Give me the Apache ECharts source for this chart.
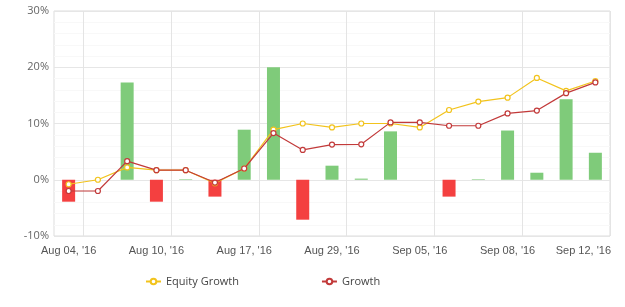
<!DOCTYPE html>
<html>
<head>
<meta charset="utf-8">
<script src="https://cdn.jsdelivr.net/npm/echarts@6/dist/echarts.min.js"></script>
<style>
html,body{margin:0;padding:0;background:#fff;}
#chart{width:625px;height:307px;}
</style>
</head>
<body>
<div id="chart"></div>
<script>
var categories = ["Aug 04, '16","Aug 05, '16","Aug 08, '16","Aug 10, '16","Aug 11, '16","Aug 12, '16","Aug 17, '16","Aug 18, '16","Aug 26, '16","Aug 29, '16","Aug 30, '16","Sep 01, '16","Sep 05, '16","Sep 06, '16","Sep 07, '16","Sep 08, '16","Sep 09, '16","Sep 11, '16","Sep 12, '16"];
var barValues = [-3.9, 0, 17.3, -3.9, 0.1, -3.0, 8.9, 20.0, -7.1, 2.5, 0.2, 8.6, 0, -3.0, 0.1, 8.75, 1.25, 14.3, 4.8];
var equityGrowth = [-0.8, 0.0, 2.2, 1.7, 1.7, -0.6, 2.0, 8.9, 10.0, 9.3, 10.0, 10.0, 9.3, 12.4, 13.9, 14.6, 18.1, 15.8, 17.55];
var growth = [-2.0, -2.0, 3.3, 1.7, 1.7, -0.5, 2.0, 8.3, 5.3, 6.25, 6.3, 10.2, 10.2, 9.6, 9.6, 11.8, 12.3, 15.4, 17.3];
var yTicks = [-10, 0, 10, 20, 30];

var chart = echarts.init(document.getElementById('chart'), null, {renderer: 'canvas'});
var last = categories.length - 1;
chart.setOption({
  animation: false,
  backgroundColor: '#ffffff',
  grid: {left: 54, right: 15, top: 11, bottom: 71, show: true, borderColor: '#dddddd', borderWidth: 1},
  legend: {
    data: ['Equity Growth', 'Growth'],
    top: 271, left: 140,
    itemWidth: 15, itemHeight: 7, itemGap: 82,
    textStyle: {fontFamily: 'Open Sans', fontSize: 11, color: '#444'}
  },
  xAxis: {
    type: 'category',
    data: categories,
    boundaryGap: true,
    axisLine: {show: false},
    axisTick: {show: false},
    axisLabel: {
      interval: 2,
      margin: 9,
      color: '#555',
      fontFamily: 'Liberation Sans, Arial',
      fontSize: 11,
      formatter: function (v, i) { return i === last ? '{last|' + v + '}' : v; },
      rich: {last: {padding: [0, 24, 0, 0], color: '#555', fontFamily: 'Liberation Sans, Arial', fontSize: 11}}
    },
    splitLine: {show: true, interval: function (i) { return i % 3 === 1; }, lineStyle: {color: '#e4e4e4'}}
  },
  yAxis: {
    type: 'value',
    min: yTicks[0], max: yTicks[yTicks.length - 1], interval: 10,
    axisLine: {show: false},
    axisTick: {show: false},
    axisLabel: {formatter: '{value}%', color: '#666', fontFamily: 'Open Sans', fontSize: 11, margin: 5},
    splitLine: {lineStyle: {color: '#e6e6e6'}},
    minorTick: {show: false, splitNumber: 5},
    minorSplitLine: {show: true, lineStyle: {color: '#f8f8f8'}}
  },
  series: [
    {
      name: 'Change',
      type: 'bar',
      data: barValues,
      barWidth: 13,
      itemStyle: {
        color: function (p) { return p.value >= 0 ? '#7fcb7a' : '#f44040'; }
      },
      z: 1
    },
    {
      name: 'Equity Growth',
      type: 'line',
      data: equityGrowth,
      color: '#f2c31c',
      symbol: 'circle', symbolSize: 5,
      itemStyle: {color: '#ffffff', borderColor: '#f2c31c', borderWidth: 1.2},
      lineStyle: {color: '#f2c31c', width: 1.2},
      z: 3
    },
    {
      name: 'Growth',
      type: 'line',
      data: growth,
      color: '#c23a3a',
      symbol: 'circle', symbolSize: 5,
      itemStyle: {color: '#ffffff', borderColor: '#c23a3a', borderWidth: 1.2},
      lineStyle: {color: '#c23a3a', width: 1.2},
      z: 4
    }
  ]
});
</script>
</body>
</html>
